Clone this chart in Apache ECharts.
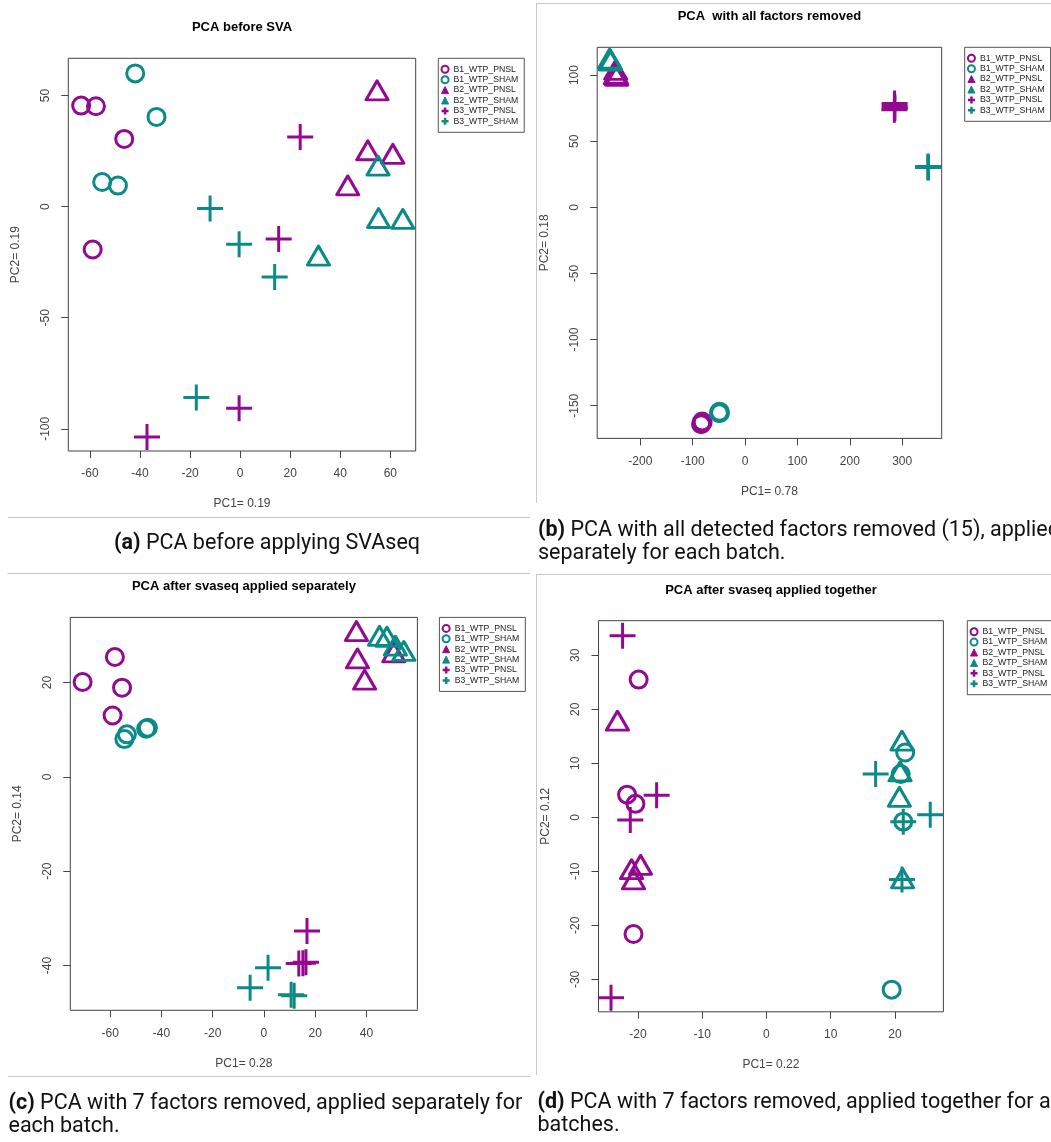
<!DOCTYPE html>
<html><head><meta charset="utf-8">
<script src="https://cdn.jsdelivr.net/npm/echarts@6/dist/echarts.min.js"></script>
<style>html,body{margin:0;padding:0;background:#fff}#c{width:1051px;height:1142px}</style>
</head><body><div id="c"></div>
<script>
// ---------- DATA ----------
const groupNames = ['B1_WTP_PNSL','B1_WTP_SHAM','B2_WTP_PNSL','B2_WTP_SHAM','B3_WTP_PNSL','B3_WTP_SHAM'];

// (a) PCA before SVA
const a_B1_PNSL = [[-63.5,45.5],[-57.6,45.2],[-46.3,30.5],[-58.9,-19.3]];
const a_B1_SHAM = [[-41.9,60.0],[-33.4,40.4],[-55.1,11.1],[-48.8,9.5]];
const a_B2_PNSL = [[54.7,52.4],[51.0,25.4],[61.0,23.8],[43.0,9.6]];
const a_B2_SHAM = [[55.1,18.5],[55.3,-5.1],[65.0,-5.5],[31.3,-22.0]];
const a_B3_PNSL = [[24.0,31.4],[15.4,-14.5],[-0.4,-90.8],[-37.2,-103.7]];
const a_B3_SHAM = [[-12.0,-0.8],[-0.4,-16.9],[13.8,-31.7],[-17.5,-85.9]];
const a_xTicks = [-60,-40,-20,0,20,40,60];
const a_yTicks = [-100,-50,0,50];
const a_xRange = [-68.64,70.14];
const a_yRange = [-110.0,66.8];

// (b) PCA with all factors removed
const b_B1_PNSL = [[-84,-164],[-82,-162],[-83,-163.5],[-81,-162.5]];
const b_B1_SHAM = [[-50,-155.5],[-48.5,-154.5],[-49,-155],[-48,-155.5]];
const b_B2_PNSL = [[-247,104],[-246,101],[-245,99.5],[-247.5,100.5]];
const b_B2_SHAM = [[-258,112],[-257,111],[-258.5,112.5],[-257.5,111.5]];
const b_B3_PNSL = [[285.5,78.5],[285.5,76.5],[286,75],[285,73.8]];
const b_B3_SHAM = [[349.6,30.5],[349.8,30.2],[349.4,30.8],[349.6,30.4]];
const b_xTicks = [-200,-100,0,100,200,300];
const b_yTicks = [-150,-100,-50,0,50,100];
const b_xRange = [-282.3,375.4];
const b_yRange = [-174.7,121.0];

// (c) PCA after svaseq applied separately
const c_B1_PNSL = [[-70.8,20.1],[-58.2,25.4],[-55.4,18.9],[-59.1,13.0]];
const c_B1_SHAM = [[-54.5,8.0],[-53.5,9.0],[-46.0,10.2],[-45.3,10.4]];
const c_B2_PNSL = [[36.1,30.9],[36.5,25.1],[39.3,20.6],[50.7,26.4]];
const c_B2_SHAM = [[45.1,29.9],[48.0,29.7],[51.3,27.8],[54.6,26.7]];
const c_B3_PNSL = [[16.8,-32.7],[13.6,-39.6],[16.4,-39.3],[15.2,-39.5]];
const c_B3_SHAM = [[1.6,-40.5],[-5.4,-44.7],[10.6,-46.2],[11.8,-46.4]];
const c_xTicks = [-60,-40,-20,0,20,40];
const c_yTicks = [-40,-20,0,20];
const c_xRange = [-75.6,59.9];
const c_yRange = [-49.5,33.8];

// (d) PCA after svaseq applied together
const d_B1_PNSL = [[-19.9,25.5],[-21.7,4.2],[-20.4,2.5],[-20.7,-21.6]];
const d_B1_SHAM = [[21.6,12.0],[20.9,8.0],[21.3,-0.8],[19.5,-31.9]];
const d_B2_PNSL = [[-23.2,17.9],[-19.6,-8.8],[-21.0,-9.6],[-20.7,-11.5]];
const d_B2_SHAM = [[21.1,14.2],[20.8,8.5],[20.7,3.8],[21.2,-11.3]];
const d_B3_PNSL = [[-22.4,33.6],[-17.1,4.1],[-21.2,-0.5],[-24.2,-33.4]];
const d_B3_SHAM = [[17.0,8.0],[25.5,0.5],[21.3,-0.8],[21.1,-11.5]];
const d_xTicks = [-20,-10,0,10,20];
const d_yTicks = [-30,-20,-10,0,10,20,30];
const d_xRange = [-26.15,27.55];
const d_yRange = [-36.0,36.4];

const titles = ['PCA before SVA','PCA  with all factors removed','PCA after svaseq applied separately','PCA after svaseq applied together'];
const xNames = ['PC1= 0.19','PC1= 0.78','PC1= 0.28','PC1= 0.22'];
const yNames = ['PC2= 0.19','PC2= 0.18','PC2= 0.14','PC2= 0.12'];
const captionTags = ['(a)','(b)','(c)','(d)'];
const captionLines = [
  [' PCA before applying SVAseq'],
  [' PCA with all detected factors removed (15), applied','separately for each batch.'],
  [' PCA with 7 factors removed, applied separately for','each batch.'],
  [' PCA with 7 factors removed, applied together for all','batches.']
];

// ---------- LAYOUT / STYLE ----------
const PURPLE = '#930a91', TEAL = '#0b8b88';
const colors = [PURPLE, TEAL];
const FONT = '"Liberation Sans", Arial, sans-serif';
const panels = [
  {grid:{left:68.3, top:58.3, width:347.4, height:392.7}, data:[a_B1_PNSL,a_B1_SHAM,a_B2_PNSL,a_B2_SHAM,a_B3_PNSL,a_B3_SHAM], xT:a_xTicks, yT:a_yTicks, xR:a_xRange, yR:a_yRange, tx:242, ty:27, lx:438.3, ly:58.3},
  {grid:{left:597.2, top:47.3, width:344.5, height:391.1}, data:[b_B1_PNSL,b_B1_SHAM,b_B2_PNSL,b_B2_SHAM,b_B3_PNSL,b_B3_SHAM], xT:b_xTicks, yT:b_yTicks, xR:b_xRange, yR:b_yRange, tx:769.4, ty:16.7, lx:964.7, ly:47.3},
  {grid:{left:70.3, top:617.4, width:347.1, height:392.9}, data:[c_B1_PNSL,c_B1_SHAM,c_B2_PNSL,c_B2_SHAM,c_B3_PNSL,c_B3_SHAM], xT:c_xTicks, yT:c_yTicks, xR:c_xRange, yR:c_yRange, tx:243.9, ty:586.8, lx:439.4, ly:617.4},
  {grid:{left:598.5, top:620.7, width:344.9, height:391.1}, data:[d_B1_PNSL,d_B1_SHAM,d_B2_PNSL,d_B2_SHAM,d_B3_PNSL,d_B3_SHAM], xT:d_xTicks, yT:d_yTicks, xR:d_xRange, yR:d_yRange, tx:771, ty:590.5, lx:967.3, ly:620.7}
];
const captionPos = [
  {x:267, y:543.4, align:'center'},
  {x:538, y:531, align:'left'},
  {x:8.5, y:1103.3, align:'left'},
  {x:537.5, y:1102.6, align:'left'}
];
const sepLines = [
  [8,517.5,530,517.5],
  [536,3.5,1051,3.5],[536.5,3.5,536.5,503],
  [7.5,573.5,530,573.5],[8,1076.5,530,1076.5],
  [536,574.5,1051,574.5],[536.5,574.5,536.5,1075]
];

const PLUS = 'path://M0,13H26M13,0V26';
function symbolFor(shape, color){
  if (shape === 0) return {symbol:'circle', symbolSize:17, itemStyle:{color:'rgba(0,0,0,0)', borderColor:color, borderWidth:3, opacity:1}};
  if (shape === 1) return {symbol:'triangle', symbolSize:[22,19], itemStyle:{color:'rgba(0,0,0,0)', borderColor:color, borderWidth:3, borderJoin:'round', opacity:1}};
  return {symbol:PLUS, symbolSize:26, itemStyle:{color:'rgba(0,0,0,0)', borderColor:color, borderWidth:3, opacity:1}};
}
function legendIcon(shape, color){
  if (shape === 0) return {icon:'circle', itemStyle:{color:'rgba(0,0,0,0)', borderColor:color, borderWidth:2, opacity:1}};
  if (shape === 1) return {icon:'triangle', itemStyle:{color:color, borderColor:color, borderWidth:1, opacity:1}};
  return {icon:'path://M0,4H8M4,0V8', itemStyle:{color:'rgba(0,0,0,0)', borderColor:color, borderWidth:2.5, opacity:1}};
}

const grids = [], xAxes = [], yAxes = [], series = [], legends = [], graphics = [];
const axisCommon = {
  axisLine:{show:false, onZero:false}, splitLine:{show:false},
  axisTick:{show:true, inside:false, length:7, lineStyle:{color:'#444', width:1}},
  axisLabel:{color:'#444', fontFamily:FONT, fontSize:12, margin:17},
  nameLocation:'middle', nameGap:47,
  nameTextStyle:{color:'#444', fontFamily:FONT, fontSize:12}
};
panels.forEach((p, i) => {
  grids.push(Object.assign({show:true, borderColor:'#444', borderWidth:1, backgroundColor:'rgba(0,0,0,0)', containLabel:false, outerBoundsMode:'none'}, p.grid));
  xAxes.push(echarts.util.merge({
    type:'value', gridIndex:i, position:'bottom', min:p.xR[0], max:p.xR[1], name:xNames[i],
    axisTick:{customValues:p.xT}, axisLabel:{customValues:p.xT}
  }, axisCommon));
  yAxes.push(echarts.util.merge({
    type:'value', gridIndex:i, position:'left', min:p.yR[0], max:p.yR[1], name:yNames[i], nameRotate:90,
    axisTick:{customValues:p.yT}, axisLabel:{customValues:p.yT, rotate:90}
  }, axisCommon));
  p.data.forEach((arr, g) => {
    const shape = Math.floor(g / 2), color = colors[g % 2];
    series.push(Object.assign({
      type:'scatter', name:groupNames[g], xAxisIndex:i, yAxisIndex:i, data:arr,
      silent:true, animation:false, emphasis:{disabled:true}, clip:false, z:2
    }, symbolFor(shape, color)));
  });
  legends.push({
    orient:'vertical', left:p.lx, top:p.ly, padding:[6,6,6,2], itemGap:0.4,
    itemWidth:7, itemHeight:7, borderColor:'#555', borderWidth:1, selectedMode:false,
    textStyle:{fontFamily:FONT, fontSize:8.7, lineHeight:10, color:'#222'},
    data: groupNames.map((n, g) => Object.assign({name:n}, legendIcon(Math.floor(g/2), colors[g%2])))
  });
  graphics.push({type:'text', x:p.tx, y:p.ty, silent:true,
    style:{text:titles[i], font:'bold 13px ' + FONT, fill:'#000', textAlign:'center', textVerticalAlign:'middle', align:'center', verticalAlign:'middle'}});
  const cp = captionPos[i];
  const lines = captionLines[i];
  let txt = '{b|' + captionTags[i] + '}{n|' + lines[0] + '}';
  for (let k = 1; k < lines.length; k++) txt += '\n{n|' + lines[k] + '}';
  graphics.push({type:'text', x:cp.x, y:cp.y - 11.5, silent:true,
    style:{text:txt, fill:'#111', textAlign:cp.align, align:cp.align, textVerticalAlign:'top', verticalAlign:'top',
      rich:{
        b:{fontFamily:'Roboto', fontSize:21.5, fontWeight:'bold', fill:'#111', lineHeight:23},
        n:{fontFamily:'Roboto', fontSize:21.5, fill:'#111', lineHeight:23}
      }}});
});
sepLines.forEach(l => graphics.push({type:'line', silent:true, shape:{x1:l[0], y1:l[1], x2:l[2], y2:l[3]}, style:{stroke:'#c8c8c8', lineWidth:1}}));

const chart = echarts.init(document.getElementById('c'), null, {renderer:'canvas', width:1051, height:1142});
chart.setOption({
  backgroundColor:'#fff', animation:false,
  grid:grids, xAxis:xAxes, yAxis:yAxes, series:series, legend:legends, graphic:graphics
});
</script></body></html>
